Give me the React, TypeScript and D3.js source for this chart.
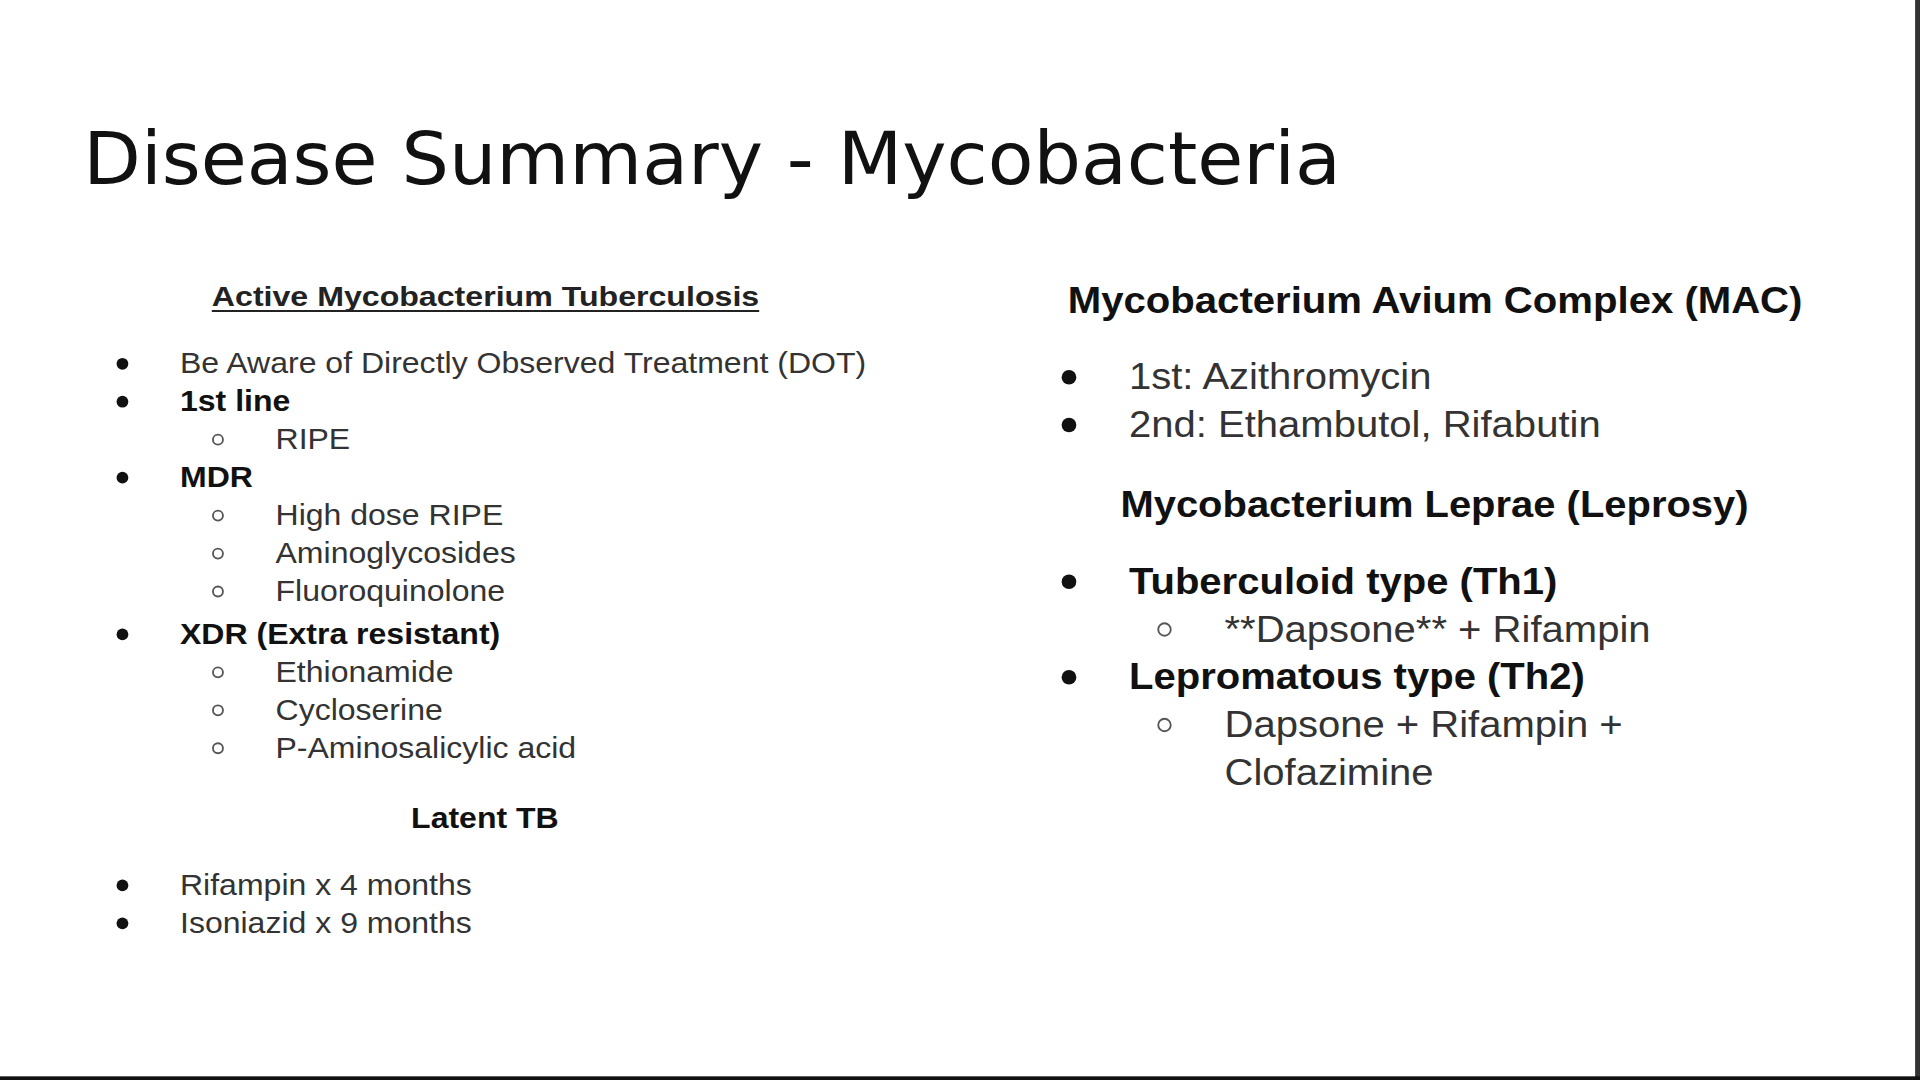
import * as d3 from 'd3';

type Line = { text: string; level: number; bold?: boolean; cont?: boolean };

const title = 'Disease Summary - Mycobacteria';
const leftHeading = 'Active Mycobacterium Tuberculosis';
const tbLines: Line[] = [
  { text: 'Be Aware of Directly Observed Treatment (DOT)', level: 0 },
  { text: '1st line', level: 0, bold: true },
  { text: 'RIPE', level: 1 },
  { text: 'MDR', level: 0, bold: true },
  { text: 'High dose RIPE', level: 1 },
  { text: 'Aminoglycosides', level: 1 },
  { text: 'Fluoroquinolone', level: 1 },
  { text: 'XDR (Extra resistant)', level: 0, bold: true },
  { text: 'Ethionamide', level: 1 },
  { text: 'Cycloserine', level: 1 },
  { text: 'P-Aminosalicylic acid', level: 1 },
];
const tbBaselines = [305, 336, 367, 398, 429, 460, 491, 526, 557, 588, 619];
const latentHeading = 'Latent TB';
const latentLines: Line[] = [
  { text: 'Rifampin x 4 months', level: 0 },
  { text: 'Isoniazid x 9 months', level: 0 },
];
const latentBaselines = [731, 762];
const macHeading = 'Mycobacterium Avium Complex (MAC)';
const macLines: Line[] = [
  { text: '1st: Azithromycin', level: 0 },
  { text: '2nd: Ethambutol, Rifabutin', level: 0 },
];
const macBaselines = [318, 357];
const lepHeading = 'Mycobacterium Leprae (Leprosy)';
const lepLines: Line[] = [
  { text: 'Tuberculoid type (Th1)', level: 0, bold: true },
  { text: '**Dapsone** + Rifampin', level: 1 },
  { text: 'Lepromatous type (Th2)', level: 0, bold: true },
  { text: 'Dapsone + Rifampin +', level: 1 },
  { text: 'Clofazimine', level: 1, cont: true },
];
const lepBaselines = [485, 524, 563, 602, 641];

const font = '"Liberation Sans", Arial, sans-serif';
const stretch = 1.09;

function List({ lines, ys, x0, x1, bx0, bx1, size }: {
  lines: Line[]; ys: number[]; x0: number; x1: number; bx0: number; bx1: number; size: number;
}) {
  const y = d3.scaleOrdinal<number, number>().domain(d3.range(lines.length)).range(ys);
  return (
    <g>
      {lines.map((l, i) => (
        <g key={i}>
          {!l.cont && (l.level === 0
            ? <circle cx={bx0} cy={y(i) - size * 0.33} r={size * 0.2} fill="#111" />
            : <circle cx={bx1} cy={y(i) - size * 0.33} r={size * 0.17} fill="none" stroke="#555" strokeWidth={1.5} />)}
          <text transform={`translate(${l.level === 0 ? x0 : x1},${y(i)}) scale(${stretch},1)`} fontSize={size}
            fontWeight={l.bold ? 'bold' : 'normal'} fill={l.bold ? '#111' : '#333'}>{l.text}</text>
        </g>
      ))}
    </g>
  );
}

export default function App() {
  return (
    <svg width={1920} height={1080} viewBox="0 0 1568 882"
      style={{ position: 'absolute', left: 0, top: 0, background: '#fff' }} fontFamily={font}>
      <rect width={1568} height={882} fill="#fff" />
      <text x={68} y={150} fontSize={60} fill="#111" textLength={1027} lengthAdjust="spacingAndGlyphs"
        fontFamily='"DejaVu Sans", sans-serif'>{title}</text>

      <text x={173} y={250} fontSize={23} fontWeight="bold" fill="#222" textLength={447}
        lengthAdjust="spacingAndGlyphs">{leftHeading}</text>
      <line x1={173} x2={620} y1={254} y2={254} stroke="#222" strokeWidth={1.5} />
      <List lines={tbLines} ys={tbBaselines} x0={147} x1={225} bx0={100} bx1={178} size={24} />
      <text transform={`translate(396,676) scale(${stretch},1)`} fontSize={24} fontWeight="bold" fill="#111"
        textAnchor="middle">{latentHeading}</text>
      <List lines={latentLines} ys={latentBaselines} x0={147} x1={225} bx0={100} bx1={178} size={24} />

      <text x={872} y={256} fontSize={30} fontWeight="bold" fill="#111" textLength={600}
        lengthAdjust="spacingAndGlyphs">{macHeading}</text>
      <List lines={macLines} ys={macBaselines} x0={922} x1={1000} bx0={873} bx1={951} size={30} />
      <text x={915} y={422} fontSize={30} fontWeight="bold" fill="#111" textLength={513}
        lengthAdjust="spacingAndGlyphs">{lepHeading}</text>
      <List lines={lepLines} ys={lepBaselines} x0={922} x1={1000} bx0={873} bx1={951} size={30} />

      <rect x={1564} y={0} width={4} height={882} fill="#333" />
      <rect x={0} y={879} width={1568} height={3} fill="#111" />
    </svg>
  );
}
